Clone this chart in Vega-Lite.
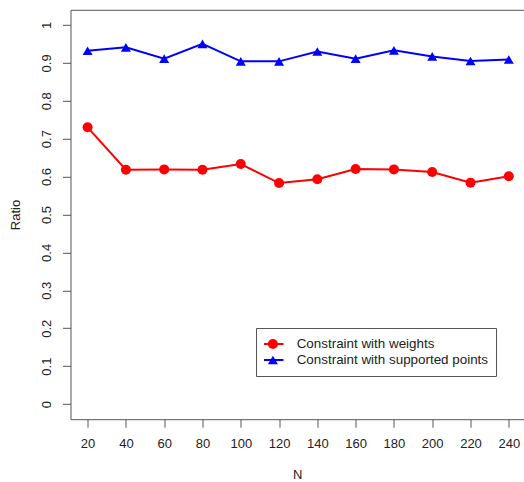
{
  "$schema": "https://vega.github.io/schema/vega-lite/v6.json",
  "width": 453.5,
  "height": 409.4,
  "autosize": {"type": "none"},
  "padding": {"left": 70.5, "top": 9.8, "right": 0, "bottom": 62.8},
  "background": "white",
  "config": {
    "font": "Liberation Sans",
    "view": {"stroke": "#555", "strokeWidth": 1},
    "axis": {"domain": false, "grid": false, "tickColor": "#555", "tickSize": 8, "labelFont": "Liberation Sans", "labelFontSize": 13, "labelColor": "#222", "titleFont": "Liberation Sans", "titleFontSize": 13, "titleFontWeight": "normal", "titleColor": "#222"},
    "legend": {"labelFont": "Liberation Sans", "labelFontSize": 13.4, "labelColor": "#222"}
  },
  "data": {"values": [
    {"N": 20, "Ratio": 0.730, "series": "Constraint with weights"},
    {"N": 40, "Ratio": 0.618, "series": "Constraint with weights"},
    {"N": 60, "Ratio": 0.619, "series": "Constraint with weights"},
    {"N": 80, "Ratio": 0.618, "series": "Constraint with weights"},
    {"N": 100, "Ratio": 0.633, "series": "Constraint with weights"},
    {"N": 120, "Ratio": 0.583, "series": "Constraint with weights"},
    {"N": 140, "Ratio": 0.593, "series": "Constraint with weights"},
    {"N": 160, "Ratio": 0.620, "series": "Constraint with weights"},
    {"N": 180, "Ratio": 0.619, "series": "Constraint with weights"},
    {"N": 200, "Ratio": 0.612, "series": "Constraint with weights"},
    {"N": 220, "Ratio": 0.584, "series": "Constraint with weights"},
    {"N": 240, "Ratio": 0.601, "series": "Constraint with weights"},
    {"N": 20, "Ratio": 0.932, "series": "Constraint with supported points"},
    {"N": 40, "Ratio": 0.941, "series": "Constraint with supported points"},
    {"N": 60, "Ratio": 0.911, "series": "Constraint with supported points"},
    {"N": 80, "Ratio": 0.950, "series": "Constraint with supported points"},
    {"N": 100, "Ratio": 0.904, "series": "Constraint with supported points"},
    {"N": 120, "Ratio": 0.904, "series": "Constraint with supported points"},
    {"N": 140, "Ratio": 0.930, "series": "Constraint with supported points"},
    {"N": 160, "Ratio": 0.911, "series": "Constraint with supported points"},
    {"N": 180, "Ratio": 0.933, "series": "Constraint with supported points"},
    {"N": 200, "Ratio": 0.917, "series": "Constraint with supported points"},
    {"N": 220, "Ratio": 0.905, "series": "Constraint with supported points"},
    {"N": 240, "Ratio": 0.909, "series": "Constraint with supported points"}
  ]},
  "layer": [
    {
      "mark": {"type": "line", "strokeWidth": 2},
      "encoding": {
        "x": {"field": "N", "type": "quantitative", "scale": {"domain": [11.07, 247.94], "nice": false, "zero": false},
          "axis": {"values": [20, 40, 60, 80, 100, 120, 140, 160, 180, 200, 220, 240], "title": "N", "labelPadding": 10, "labelOverlap": false, "labelFlush": false, "titlePadding": 18}},
        "y": {"field": "Ratio", "type": "quantitative", "scale": {"domain": [-0.04, 1.04], "nice": false, "zero": false},
          "axis": {"values": [0, 0.1, 0.2, 0.3, 0.4, 0.5, 0.6, 0.7, 0.8, 0.9, 1], "format": ".1~f", "labelAngle": 270, "labelAlign": "center", "labelBaseline": "bottom", "labelPadding": 9, "labelOverlap": false, "labelFlush": false, "title": "Ratio", "titlePadding": 18}},
        "color": {"field": "series", "type": "nominal", "sort": "descending",
          "scale": {"range": ["#FF0000", "#0000FF"]},
          "legend": {"orient": "none", "legendX": 185.5, "legendY": 318.2, "title": null, "symbolType": "stroke", "symbolSize": 625, "symbolStrokeWidth": 2, "padding": 8, "strokeColor": "#555", "clipHeight": 16, "rowPadding": 0, "labelOffset": 12.2, "symbolOffset": -6.5, "labelLimit": 400}}
      }
    },
    {
      "mark": {"type": "point", "filled": true, "size": 100, "opacity": 1, "strokeWidth": 0},
      "encoding": {
        "x": {"field": "N", "type": "quantitative"},
        "y": {"field": "Ratio", "type": "quantitative"},
        "fill": {"field": "series", "type": "nominal",
          "scale": {"domain": ["Constraint with weights", "Constraint with supported points"], "range": ["#FF0000", "#0000FF"]},
          "legend": {"orient": "none", "legendX": 185.5, "legendY": 318.2, "title": null, "padding": 8, "clipHeight": 16, "rowPadding": 0, "labelExpr": "''", "labelOpacity": 0, "symbolSize": 100, "symbolOffset": 2.2, "symbolStrokeWidth": 0}},
        "shape": {"field": "series", "type": "nominal",
          "scale": {"domain": ["Constraint with weights", "Constraint with supported points"], "range": ["circle", "triangle-up"]},
          "legend": {"orient": "none", "legendX": 185.5, "legendY": 318.2, "title": null, "padding": 8, "clipHeight": 16, "rowPadding": 0, "labelExpr": "''", "labelOpacity": 0, "symbolSize": 100, "symbolOffset": 2.2, "symbolStrokeWidth": 0}}
      }
    }
  ]
}
